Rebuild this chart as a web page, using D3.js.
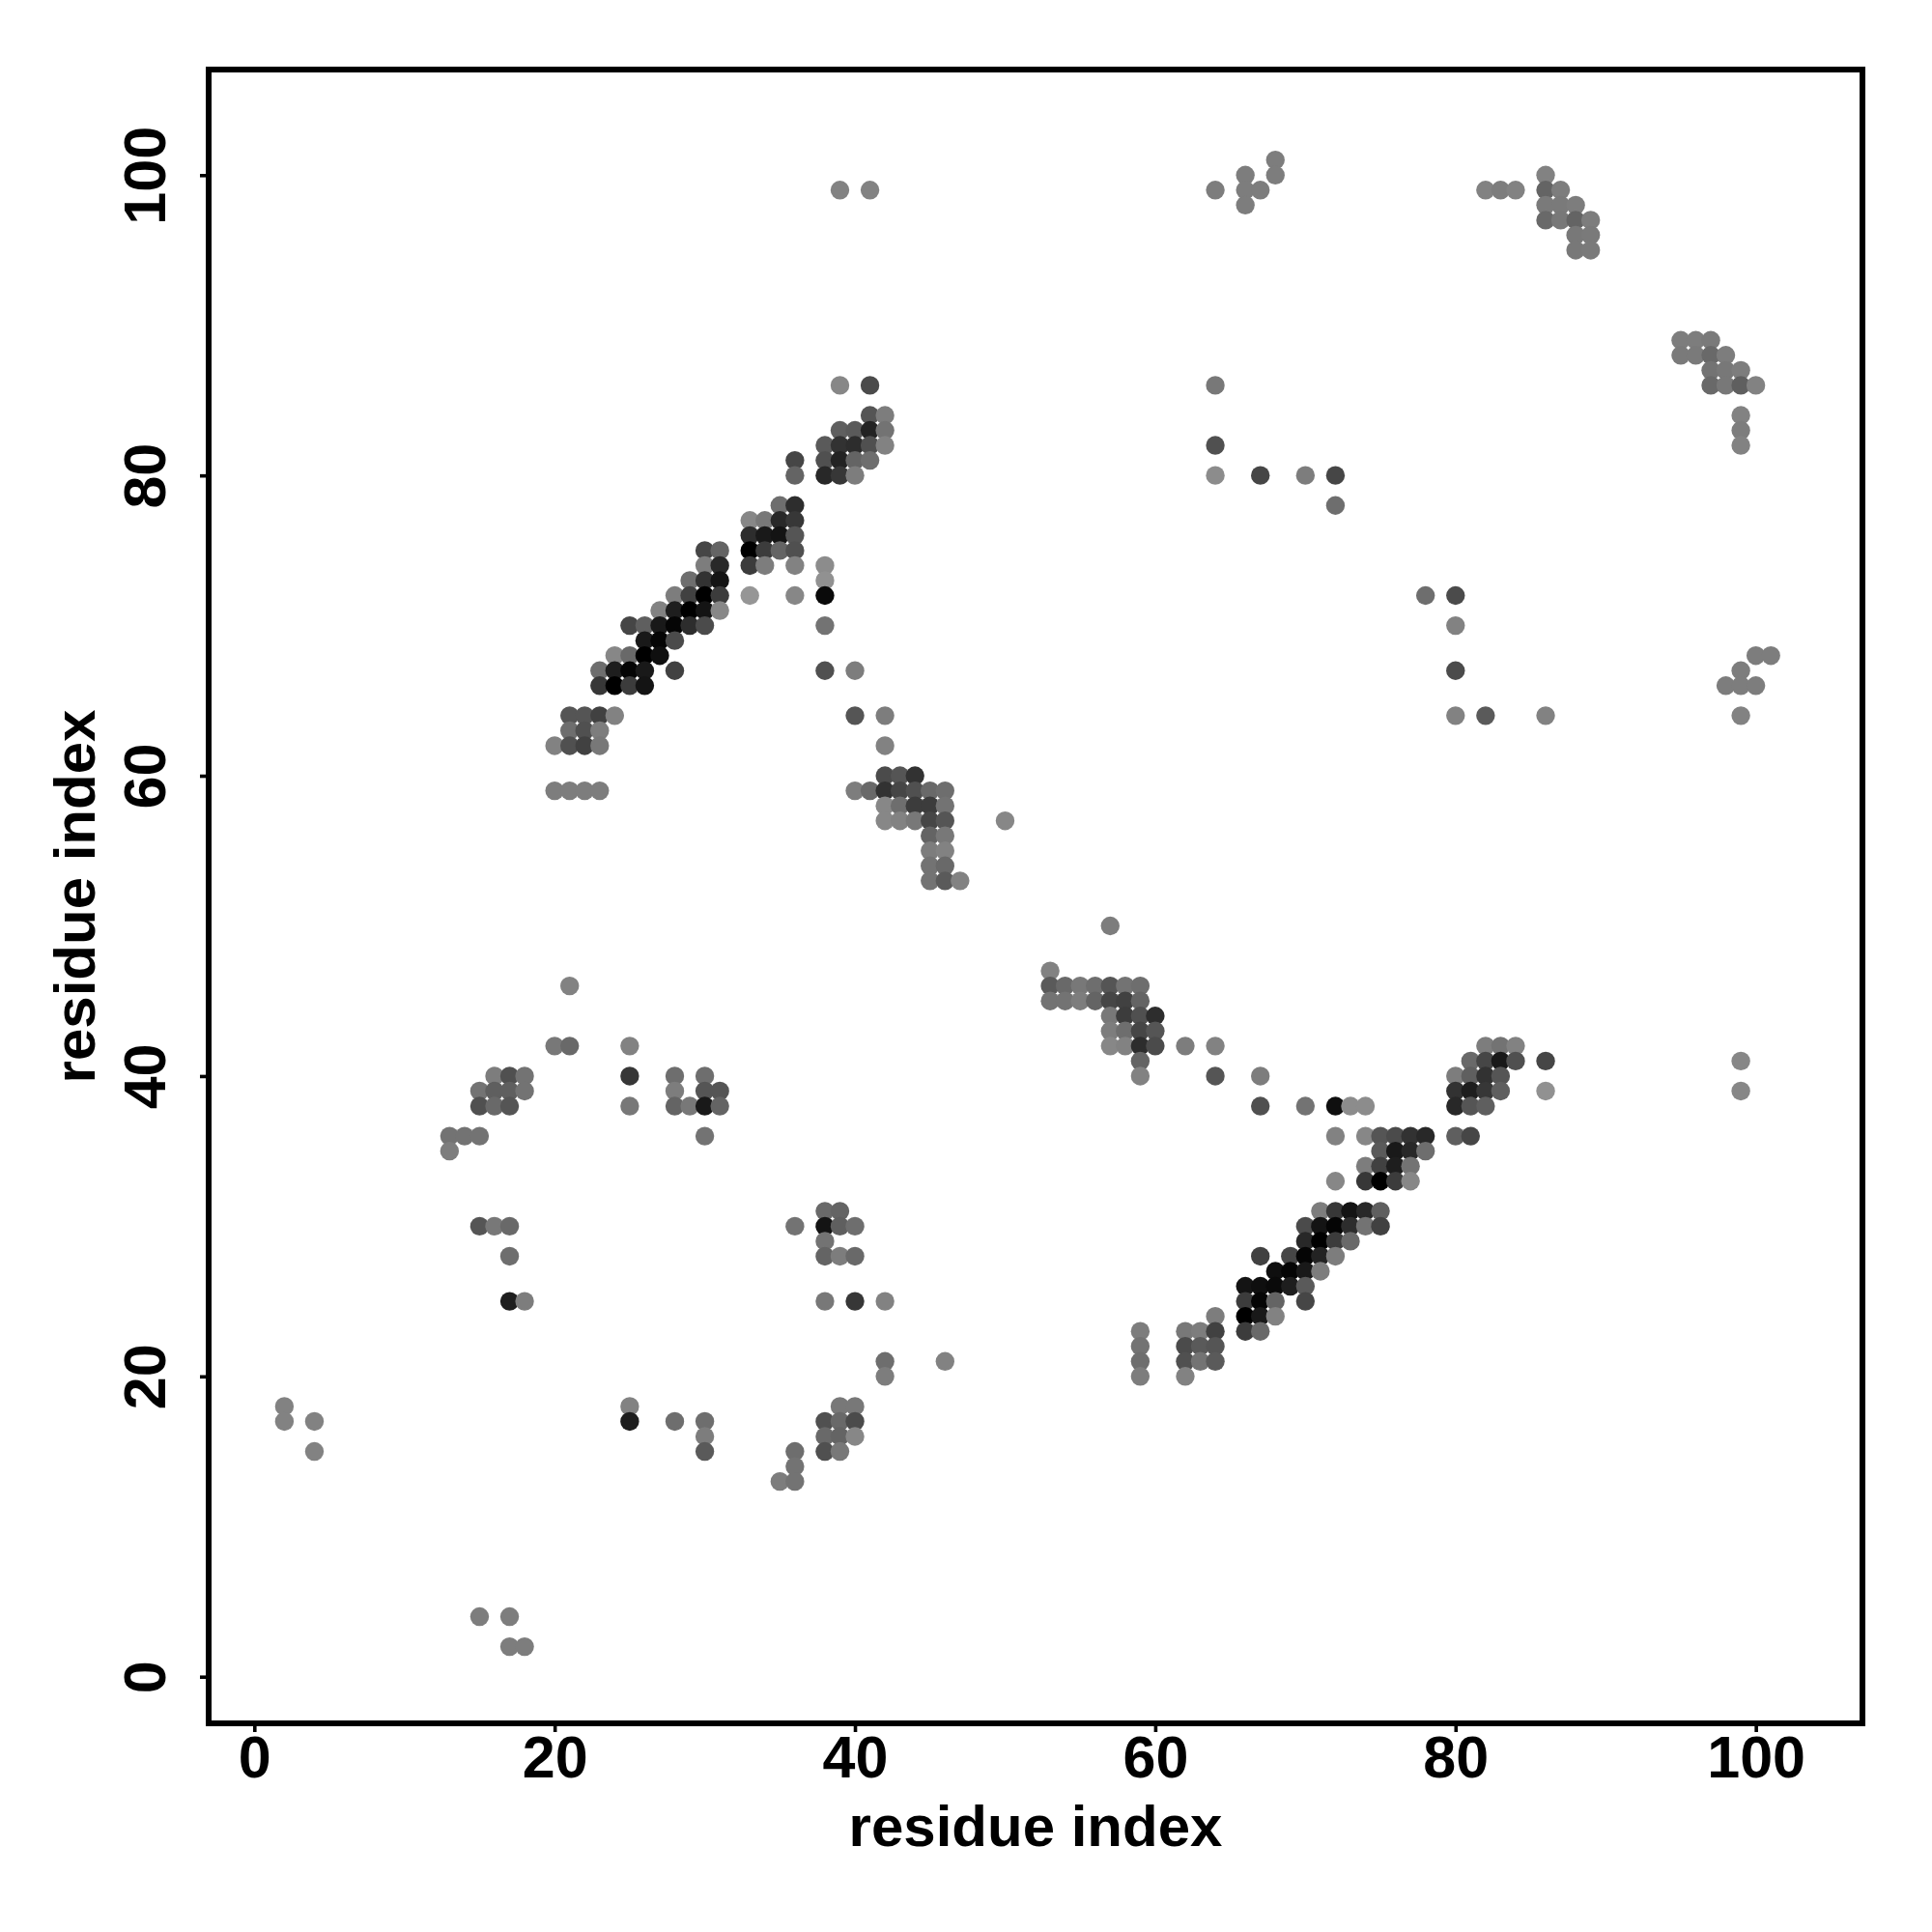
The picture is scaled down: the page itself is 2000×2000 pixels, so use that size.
<!DOCTYPE html>
<html>
<head>
<meta charset="utf-8">
<script src="https://cdnjs.cloudflare.com/ajax/libs/d3/7.8.5/d3.min.js"></script>
<style>html,body{margin:0;padding:0;background:#fff}svg{display:block}</style>
</head>
<body>
<svg id="chart" width="2000" height="2000"></svg>
<script>
const axisTitle = "residue index";
const tickValues = [0, 20, 40, 60, 80, 100];
const rowIndex = [101,100,99,98,97,96,95,89,88,87,86,84,83,82,81,80,78,77,76,75,74,73,72,71,70,69,68,67,66,64,63,62,60,59,58,57,56,55,54,53,50,47,46,45,44,43,42,41,40,39,38,36,35,34,33,31,30,29,28,27,26,25,24,23,22,21,20,18,17,16,15,14,13,4,2];
const rowColumns = [
[68],
[66,68,86],
[39,41,64,66,67,82,83,84,86,87],
[66,86,87,88],
[86,87,88,89],
[88,89],
[88,89],
[95,96,97],
[95,96,97,98],
[97,98,99],
[39,41,64,97,98,99,100],
[41,42,99],
[39,40,41,42,99],
[38,39,40,41,42,64,99],
[36,38,39,40,41],
[36,38,39,40,64,67,70,72],
[35,36,72],
[33,34,35,36],
[33,34,35,36],
[30,31,33,34,35,36],
[30,31,33,34,36,38],
[29,30,31,38],
[28,29,30,31,33,36,38,78,80],
[27,28,29,30,31],
[25,26,27,28,29,30,38,80],
[26,27,28],
[24,25,26,27,100,101],
[23,24,25,26,28,38,40,80,99],
[23,24,25,26,98,99,100],
[21,22,23,24,40,42,80,82,86,99],
[21,22,23],
[20,21,22,23,42],
[42,43,44],
[20,21,22,23,40,41,42,43,44,45,46],
[42,43,44,45,46],
[42,43,44,45,46,50],
[45,46],
[45,46],
[45,46],
[45,46,47],
[57],
[53],
[21,53,54,55,56,57,58,59],
[53,54,55,56,57,58,59],
[57,58,59,60],
[57,58,59,60],
[20,21,25,57,58,59,60,62,64,82,83,84],
[59,81,82,83,84,86,99],
[16,17,18,25,28,30,59,64,67,80,81,82,83],
[15,16,17,18,28,30,31,80,81,82,83,86,99],
[15,16,17,25,28,29,30,31,67,70,72,73,74,80,81,82],
[13,14,15,30,72,74,75,76,77,78,80,81],
[13,75,76,77,78],
[74,75,76,77],
[72,74,75,76,77],
[38,39,71,72,73,74,75],
[15,16,17,36,38,39,40,70,71,72,73,74,75],
[38,70,71,72,73],
[17,38,39,40,67,69,70,71,72],
[68,69,70,71],
[66,67,68,69,70],
[17,18,38,40,42,66,67,68,70],
[64,66,67,68],
[59,62,63,64,66,67],
[59,62,63,64],
[42,46,59,62,63,64],
[42,59,62],
[2,25,39,40],
[2,4,25,28,30,38,39,40],
[30,38,39,40],
[4,30,36,38,39],
[36],
[35,36],
[15,17],
[17,18]
];
const rowGrays = [
[125],
[125,125,130],
[130,130,125,125,125,130,125,130,100,125],
[125,122,122,125],
[105,120,100,125],
[120,122],
[120,122],
[125,125,122],
[122,122,105,125],
[115,120,125],
[135,75,120,105,120,95,130],
[85,125,130],
[95,90,35,115,125],
[90,50,45,80,130,80,130],
[70,80,35,100,110],
[100,40,55,125,140,70,125,70],
[110,45,110],
[135,120,40,55],
[45,25,20,85],
[70,100,0,60,100,80],
[125,40,60,125,130,140],
[110,50,20,145],
[125,65,0,60,150,135,10,110,75],
[130,30,0,20,135],
[70,95,25,5,45,75,115,130],
[25,5,75],
[135,105,0,15,125,125],
[110,30,5,25,65,80,125,75,125],
[55,0,60,20,125,125,125],
[85,85,65,130,85,125,130,90,130,130],
[110,80,125],
[130,80,65,120,130],
[75,85,50],
[125,125,125,125,125,105,50,70,80,105,110],
[135,110,60,60,115],
[135,130,120,70,85,135],
[100,120],
[125,130],
[115,105],
[115,90,130],
[125],
[130],
[130,90,105,120,110,85,115,110],
[115,115,125,100,70,65,100],
[120,60,80,45],
[125,110,70,85],
[120,105,130,135,130,45,75,125,130,125,115,130],
[100,105,70,25,80,70,135],
[125,80,115,55,110,110,130,85,125,125,95,50,85],
[115,95,95,115,125,85,85,50,30,55,95,145,135],
[80,105,85,120,100,120,25,100,80,115,15,140,140,40,85,95],
[115,115,115,115,130,135,85,75,50,40,95,70],
[125,90,25,40,110],
[125,65,30,115],
[135,55,0,60,135],
[105,100,125,55,20,40,95],
[85,120,105,115,20,95,110,75,20,5,45,115,65],
[115,40,0,60,105],
[110,100,125,105,65,70,5,35,125],
[15,5,25,125],
[20,15,10,30,90],
[30,125,120,55,130,60,5,100,70],
[125,0,25,130],
[125,120,125,65,60,105],
[115,75,90,85],
[110,130,110,80,115,90],
[125,125,130],
[130,130,120,120],
[130,130,30,110,110,80,105,75],
[125,105,100,135],
[130,90,110,80,120],
[115],
[125,115],
[125,125],
[125,125]
];

const svg = d3.select("#chart");
const frame = {left: 216, right: 1928, top: 72, bottom: 1784};
const x = d3.scaleLinear().domain([-3.043, 107.1]).range([frame.left, frame.right]);
const y = d3.scaleLinear().domain([-3.107, 107.03]).range([frame.bottom, frame.top]);
const gray = d3.scaleLinear().domain([0, 255]).range(["#000000", "#ffffff"]);

const points = rowIndex.flatMap((j, r) => rowColumns[r].map((i, k) => ({i, j, g: rowGrays[r][k]})));

svg.append("g").selectAll("circle").data(points).join("circle")
  .attr("cx", d => x(d.i)).attr("cy", d => y(d.j)).attr("r", 9.7).attr("fill", d => gray(d.g));

const font = "'Liberation Sans', Arial, sans-serif";
const xAxis = svg.append("g").attr("transform", `translate(0,${frame.bottom})`)
  .call(d3.axisBottom(x).tickValues(tickValues).tickSize(9).tickFormat(d3.format("d")));
xAxis.select(".domain").remove();
xAxis.selectAll("line").attr("stroke", "#000").attr("stroke-width", 3.6);
xAxis.selectAll("text").attr("y", 0).attr("dy", null).attr("transform", "translate(0,56)")
  .attr("font-family", font).attr("font-weight", "bold").attr("font-size", 61).attr("fill", "#000").attr("text-anchor", "middle");

const yAxis = svg.append("g").attr("transform", `translate(${frame.left},0)`)
  .call(d3.axisLeft(y).tickValues(tickValues).tickSize(9).tickFormat(d3.format("d")));
yAxis.select(".domain").remove();
yAxis.selectAll("line").attr("stroke", "#000").attr("stroke-width", 3.6);
yAxis.selectAll("text").attr("x", 0).attr("dy", null).attr("transform", "translate(-45.3,0) rotate(-90)")
  .attr("font-family", font).attr("font-weight", "bold").attr("font-size", 61).attr("fill", "#000").attr("text-anchor", "middle");

svg.append("rect").attr("x", frame.left).attr("y", frame.top)
  .attr("width", frame.right - frame.left).attr("height", frame.bottom - frame.top)
  .attr("fill", "none").attr("stroke", "#000").attr("stroke-width", 6);

svg.append("text").attr("x", (frame.left + frame.right) / 2).attr("y", 1911)
  .attr("text-anchor", "middle").attr("font-family", font).attr("font-weight", "bold").attr("font-size", 60)
  .text(axisTitle);
svg.append("text").attr("transform", `translate(98,${(frame.top + frame.bottom) / 2}) rotate(-90)`)
  .attr("text-anchor", "middle").attr("font-family", font).attr("font-weight", "bold").attr("font-size", 60)
  .text(axisTitle);
</script>
</body>
</html>
